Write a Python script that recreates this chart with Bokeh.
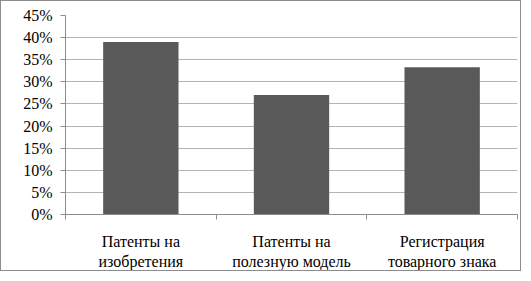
from bokeh.plotting import figure
from bokeh.models import FixedTicker, NumeralTickFormatter, Range1d, ColumnDataSource
from bokeh.embed import file_html
from bokeh.resources import INLINE

categories = ["Патенты на\nизобретения", "Патенты на\nполезную модель", "Регистрация\nтоварного знака"]
values = [0.39, 0.27, 0.333]
y_ticks = [0, 0.05, 0.10, 0.15, 0.20, 0.25, 0.30, 0.35, 0.40, 0.45]

xs = [i + 0.5 for i in range(len(categories))]
src = ColumnDataSource(dict(x=xs, top=values))

p = figure(width=521, height=271, output_backend="svg", toolbar_location=None,
           x_range=Range1d(0, len(categories)), y_range=Range1d(0, 0.45),
           min_border_left=64, min_border_right=5, min_border_top=14, min_border_bottom=54,
           styles={"border": "1px solid #8c8c8c"})
p.outline_line_color = None
p.vbar(x="x", top="top", width=0.5, bottom=0, source=src, fill_color="#595959", line_color=None)

grey = "#8c8c8c"
xa = p.xaxis[0]
xa.ticker = FixedTicker(ticks=xs, minor_ticks=list(range(len(categories) + 1)))
xa.major_label_overrides = {x: c for x, c in zip(xs, categories)}
xa.major_tick_line_color = None
xa.minor_tick_line_color = grey
xa.minor_tick_out = 5
xa.minor_tick_in = 0
xa.axis_line_color = grey
xa.major_label_text_font = "Times"
xa.major_label_text_font_size = "16px"
xa.major_label_text_color = "#000000"
xa.major_label_standoff = 12

ya = p.yaxis[0]
ya.ticker = FixedTicker(ticks=y_ticks)
ya.formatter = NumeralTickFormatter(format="0%")
ya.axis_line_color = grey
ya.major_tick_line_color = grey
ya.major_tick_out = 5
ya.major_tick_in = 0
ya.minor_tick_line_color = None
ya.major_label_text_font = '"Liberation Serif"'
ya.major_label_text_font_size = "16px"
ya.major_label_text_color = "#000000"
ya.major_label_standoff = 8

p.xgrid.grid_line_color = None
p.ygrid.ticker = FixedTicker(ticks=y_ticks)
p.ygrid.grid_line_color = "#b4b4b4"

open("out.html", "w").write(file_html(p, INLINE))
